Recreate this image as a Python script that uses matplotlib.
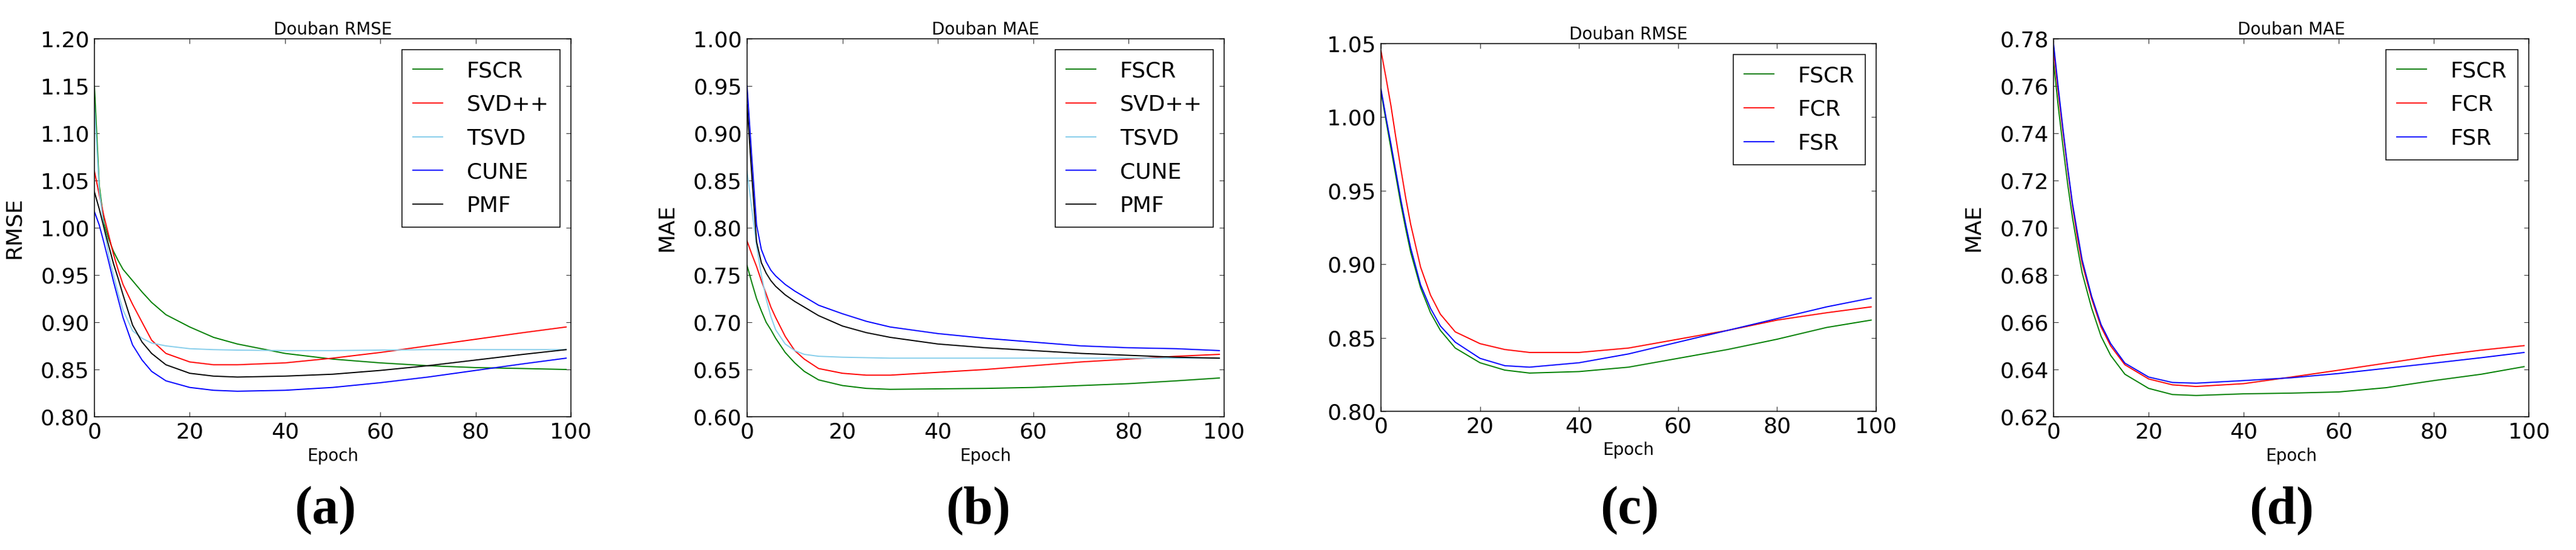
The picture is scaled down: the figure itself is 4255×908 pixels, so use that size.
import matplotlib
matplotlib.use('Agg')
import matplotlib.pyplot as plt
import numpy as np


epochs = [0, 1, 2, 3, 4, 5, 6, 8, 10, 12, 15, 20, 25, 30, 40, 50, 60, 70, 80, 90, 99]

# (a) Douban RMSE
a_fscr = [1.150, 1.045, 1.005, 0.988, 0.975, 0.965, 0.956, 0.944, 0.932, 0.921, 0.908,
          0.895, 0.884, 0.877, 0.867, 0.861, 0.857, 0.854, 0.852, 0.851, 0.850]
a_svdpp = [1.060, 1.035, 1.012, 0.992, 0.972, 0.955, 0.940, 0.919, 0.900, 0.881, 0.867,
           0.858, 0.855, 0.855, 0.857, 0.862, 0.868, 0.875, 0.882, 0.889, 0.895]
a_tsvd = [1.130, 1.040, 1.000, 0.971, 0.950, 0.930, 0.913, 0.891, 0.883, 0.878, 0.875,
          0.872, 0.871, 0.8705, 0.870, 0.870, 0.8705, 0.871, 0.871, 0.871, 0.871]
a_cune = [1.017, 1.003, 0.984, 0.964, 0.943, 0.924, 0.905, 0.876, 0.860, 0.848, 0.838,
          0.831, 0.828, 0.827, 0.828, 0.831, 0.836, 0.842, 0.849, 0.856, 0.862]
a_pmf = [1.038, 1.020, 1.000, 0.981, 0.962, 0.946, 0.929, 0.897, 0.879, 0.867, 0.855,
         0.846, 0.843, 0.842, 0.843, 0.845, 0.849, 0.854, 0.860, 0.866, 0.871]

# (b) Douban MAE
b_fscr = [0.760, 0.742, 0.725, 0.712, 0.700, 0.692, 0.683, 0.668, 0.657, 0.648, 0.639,
          0.633, 0.630, 0.629, 0.6295, 0.630, 0.631, 0.633, 0.635, 0.638, 0.641]
b_svdpp = [0.786, 0.772, 0.759, 0.744, 0.730, 0.716, 0.705, 0.685, 0.670, 0.661, 0.651,
           0.646, 0.644, 0.644, 0.647, 0.650, 0.654, 0.658, 0.661, 0.664, 0.666]
b_tsvd = [0.860, 0.820, 0.781, 0.750, 0.725, 0.706, 0.692, 0.677, 0.670, 0.666, 0.664,
          0.663, 0.6625, 0.662, 0.662, 0.662, 0.662, 0.662, 0.662, 0.662, 0.662]
b_cune = [0.950, 0.874, 0.803, 0.777, 0.764, 0.755, 0.749, 0.740, 0.733, 0.727, 0.718,
          0.709, 0.701, 0.695, 0.688, 0.683, 0.679, 0.675, 0.673, 0.672, 0.670]
b_pmf = [0.930, 0.855, 0.785, 0.763, 0.752, 0.744, 0.738, 0.729, 0.722, 0.716, 0.707,
         0.696, 0.689, 0.684, 0.677, 0.673, 0.670, 0.667, 0.665, 0.663, 0.662]

# (c) Douban RMSE, variants
c_fscr = [1.017, 0.998, 0.979, 0.960, 0.941, 0.924, 0.908, 0.884, 0.867, 0.855, 0.843,
          0.833, 0.828, 0.826, 0.827, 0.830, 0.836, 0.842, 0.849, 0.857, 0.862]
c_fcr = [1.045, 1.027, 1.008, 0.986, 0.965, 0.945, 0.927, 0.898, 0.879, 0.866, 0.854,
         0.846, 0.842, 0.840, 0.840, 0.843, 0.849, 0.855, 0.862, 0.867, 0.871]
c_fsr = [1.019, 1.000, 0.982, 0.963, 0.944, 0.927, 0.911, 0.886, 0.870, 0.858, 0.847,
         0.836, 0.831, 0.830, 0.833, 0.839, 0.847, 0.855, 0.863, 0.871, 0.877]

# (d) Douban MAE, variants
d_fscr = [0.770, 0.751, 0.734, 0.718, 0.704, 0.692, 0.681, 0.666, 0.654, 0.646, 0.638,
          0.632, 0.6294, 0.629, 0.6297, 0.630, 0.6305, 0.6323, 0.6353, 0.638, 0.6412]
d_fcr = [0.7755, 0.757, 0.740, 0.724, 0.709, 0.696, 0.685, 0.670, 0.658, 0.650, 0.642,
         0.636, 0.6335, 0.6328, 0.634, 0.6368, 0.6397, 0.6427, 0.6457, 0.6482, 0.6501]
d_fsr = [0.7778, 0.759, 0.7414, 0.725, 0.710, 0.698, 0.6865, 0.671, 0.659, 0.651, 0.6427,
         0.6368, 0.6345, 0.6342, 0.6353, 0.6365, 0.6383, 0.6405, 0.6427, 0.645, 0.6472]

labels5 = ['FSCR', 'SVD++', 'TSVD', 'CUNE', 'PMF']
labels3 = ['FSCR', 'FCR', 'FSR']
colors5 = ['g', 'r', 'skyblue', 'b', 'k']
colors3 = ['g', 'r', 'b']

plt.rcParams['font.family'] = 'DejaVu Sans'

fig = plt.figure(figsize=(42.55, 9.08), dpi=100)

panels = [
    # rect, title, ylabel, series, labels, colors, ylim, ystep, caption, caption x (px)
    ([0.03666, 0.2423, 0.18496, 0.6872], 'Douban RMSE', 'RMSE',
     [a_fscr, a_svdpp, a_tsvd, a_cune, a_pmf], labels5, colors5,
     (0.80, 1.20), 0.05, '(a)', 537),
    ([0.2900, 0.2423, 0.1852, 0.6872], 'Douban MAE', 'MAE',
     [b_fscr, b_svdpp, b_tsvd, b_cune, b_pmf], labels5, colors5,
     (0.60, 1.00), 0.05, '(b)', 1616),
    ([0.5361, 0.2522, 0.1922, 0.6685], 'Douban RMSE', None,
     [c_fscr, c_fcr, c_fsr], labels3, colors3,
     (0.80, 1.05), 0.05, '(c)', 2692),
    ([0.7972, 0.2423, 0.1845, 0.6872], 'Douban MAE', 'MAE',
     [d_fscr, d_fcr, d_fsr], labels3, colors3,
     (0.62, 0.78), 0.02, '(d)', 3769),
]

for rect, title, ylab, series, labels, colors, ylim, ystep, cap, cap_x in panels:
    ax = fig.add_axes(rect)
    for vals, lab, col in zip(series, labels, colors):
        ax.plot(epochs, vals, color=col, lw=1.4, label=lab)
    ax.set_xlim(0, 100)
    ax.set_ylim(*ylim)
    ax.set_xticks(np.arange(0, 101, 20))
    ax.set_yticks(np.arange(ylim[0], ylim[1] + ystep / 2, ystep))
    ax.yaxis.set_major_formatter(matplotlib.ticker.FormatStrFormatter('%.2f'))
    ax.tick_params(direction='in', top=True, right=True, length=6, width=0.8,
                   labelsize=26, color='#333333')
    ax.tick_params(axis='y', pad=6)
    ax.tick_params(axis='x', pad=6)
    for s in ax.spines.values():
        s.set_linewidth(1.1)
    ax.set_title(title, fontsize=20, pad=5)
    ax.set_xlabel('Epoch', fontsize=20)
    ax.xaxis.set_label_coords(0.5, -0.082)
    if ylab:
        ax.set_ylabel(ylab, fontsize=26)
        ax.yaxis.set_label_coords(-0.147, 0.5)
    leg = ax.legend(loc='upper right', fontsize=26, handlelength=1.35,
                    handletextpad=1.1, borderpad=0.5, labelspacing=0.6,
                    borderaxespad=0.5, fancybox=False, framealpha=1)
    leg.get_frame().set_edgecolor('black')
    leg.get_frame().set_linewidth(1.1)
    fig.text(cap_x / 4255, 1 - 843 / 908, cap, ha='center', va='center',
             fontsize=63, fontweight='bold', family='Liberation Serif')

fig.savefig('out.png', dpi=100)
